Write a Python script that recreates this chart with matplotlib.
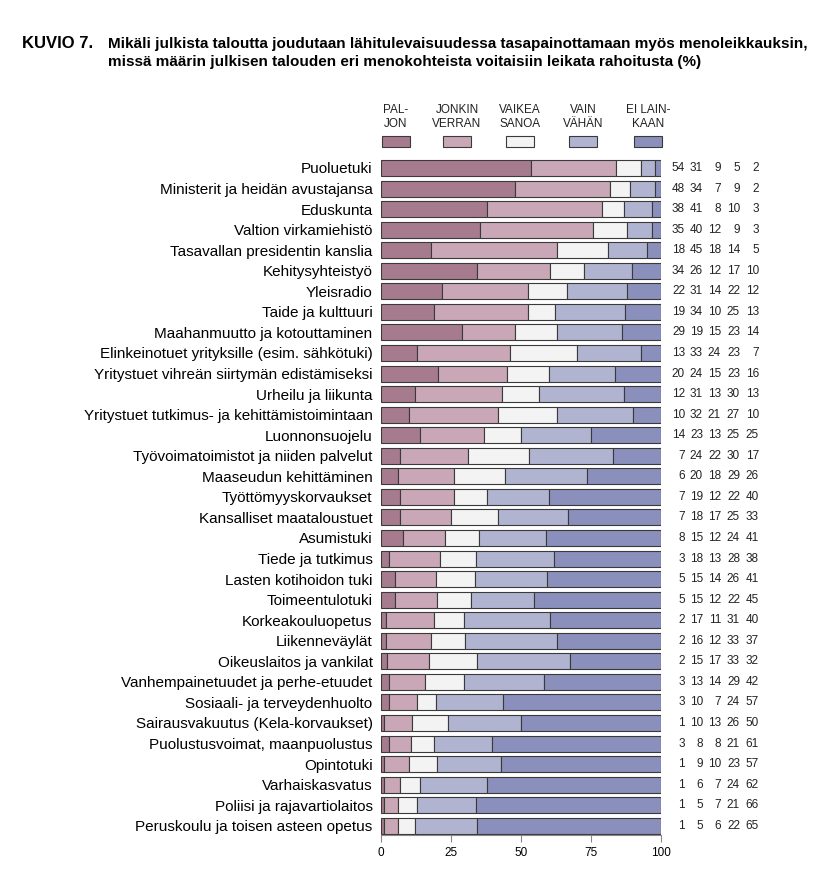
import matplotlib
matplotlib.use("Agg")
import matplotlib.pyplot as plt
from matplotlib.patches import Rectangle
from matplotlib.transforms import blended_transform_factory
import numpy as np

categories = [
    "Puoluetuki",
    "Ministerit ja heidän avustajansa",
    "Eduskunta",
    "Valtion virkamiehistö",
    "Tasavallan presidentin kanslia",
    "Kehitysyhteistyö",
    "Yleisradio",
    "Taide ja kulttuuri",
    "Maahanmuutto ja kotouttaminen",
    "Elinkeinotuet yrityksille (esim. sähkötuki)",
    "Yritystuet vihreän siirtymän edistämiseksi",
    "Urheilu ja liikunta",
    "Yritystuet tutkimus- ja kehittämistoimintaan",
    "Luonnonsuojelu",
    "Työvoimatoimistot ja niiden palvelut",
    "Maaseudun kehittäminen",
    "Työttömyyskorvaukset",
    "Kansalliset maataloustuet",
    "Asumistuki",
    "Tiede ja tutkimus",
    "Lasten kotihoidon tuki",
    "Toimeentulotuki",
    "Korkeakouluopetus",
    "Liikenneväylät",
    "Oikeuslaitos ja vankilat",
    "Vanhempainetuudet ja perhe-etuudet",
    "Sosiaali- ja terveydenhuolto",
    "Sairausvakuutus (Kela-korvaukset)",
    "Puolustusvoimat, maanpuolustus",
    "Opintotuki",
    "Varhaiskasvatus",
    "Poliisi ja rajavartiolaitos",
    "Peruskoulu ja toisen asteen opetus",
]

paljon = [54, 48, 38, 35, 18, 34, 22, 19, 29, 13, 20, 12, 10, 14, 7, 6, 7,
          7, 8, 3, 5, 5, 2, 2, 2, 3, 3, 1, 3, 1, 1, 1, 1]
jonkin_verran = [31, 34, 41, 40, 45, 26, 31, 34, 19, 33, 24, 31, 32, 23, 24,
                 20, 19, 18, 15, 18, 15, 15, 17, 16, 15, 13, 10, 10, 8, 9,
                 6, 5, 5]
vaikea_sanoa = [9, 7, 8, 12, 18, 12, 14, 10, 15, 24, 15, 13, 21, 13, 22, 18,
                12, 17, 12, 13, 14, 12, 11, 12, 17, 14, 7, 13, 8, 10, 7, 7, 6]
vain_vahan = [5, 9, 10, 9, 14, 17, 22, 25, 23, 23, 23, 30, 27, 25, 30, 29,
              22, 25, 24, 28, 26, 22, 31, 33, 33, 29, 24, 26, 21, 23, 24, 21,
              22]
ei_lainkaan = [2, 2, 3, 3, 5, 10, 12, 13, 14, 7, 16, 13, 10, 25, 17, 26, 40,
               33, 41, 38, 41, 45, 40, 37, 32, 42, 57, 50, 61, 57, 62, 66, 65]

series_labels = ["PAL-\nJON", "JONKIN\nVERRAN", "VAIKEA\nSANOA", "VAIN\nVÄHÄN",
                 "EI LAIN-\nKAAN"]
colors = ["#a77b8e", "#caa7b6", "#f3f3f3", "#b0b4d1", "#8a8fbc"]
xticks = [0, 25, 50, 75, 100]

plt.rcParams["font.family"] = ["Liberation Sans", "DejaVu Sans"]

series = np.array([paljon, jonkin_verran, vaikea_sanoa, vain_vahan, ei_lainkaan],
                  dtype=float)
# bars are drawn to 100 % (rounded figures do not always add up)
shares = series / series.sum(axis=0) * 100

fig = plt.figure(figsize=(8.28, 8.88), dpi=100)
ax = fig.add_axes([0.460, 0.0597, 0.338, 0.7627])

y = np.arange(len(categories))
left = np.zeros(len(categories))
for vals, col in zip(shares, colors):
    ax.barh(y, vals, left=left, height=0.78, color=col, edgecolor="#3a3a3a",
            linewidth=0.8)
    left += vals

ax.set_ylim(len(categories) - 0.55, -0.5)
ax.set_xlim(0, 100)
ax.set_yticks(y)
ax.set_yticklabels(categories, fontsize=11)
ax.tick_params(axis="y", length=0, pad=6)
ax.set_xticks(xticks)
ax.set_xticklabels([str(t) for t in xticks], fontsize=8.5)
ax.tick_params(axis="x", length=5, color="#888888", pad=4)
for s in ["top", "right", "left"]:
    ax.spines[s].set_visible(False)
ax.spines["bottom"].set_color("#888888")

# value columns on the right
col_x = [685, 703, 721, 740, 759]
trans = blended_transform_factory(fig.transFigure, ax.transData)
for i in range(len(categories)):
    for j in range(5):
        ax.text(col_x[j] / 828, i, str(int(series[j, i])), transform=trans,
                ha="right", va="center", fontsize=8.5, color="#222222")

# legend above the bars
leg_x = [396, 457, 520, 583, 648]
for lab, col, cx in zip(series_labels, colors, leg_x):
    fig.patches.append(Rectangle(((cx - 14) / 828, 1 - 147 / 888), 28 / 828,
                                 11 / 888, transform=fig.transFigure,
                                 facecolor=col, edgecolor="#3a3a3a",
                                 linewidth=0.8))
    fig.text(cx / 828, 1 - 117 / 888, lab, ha="center", va="center",
             fontsize=8.5, linespacing=1.15, color="#222222")

# title
fig.text(22 / 828, 1 - 44 / 888, "KUVIO 7.", ha="left", va="center",
         fontsize=12, fontweight="bold")
fig.text(108 / 828, 1 - 44 / 888,
         "Mikäli julkista taloutta joudutaan lähitulevaisuudessa "
         "tasapainottamaan myös menoleikkauksin,",
         ha="left", va="center", fontsize=11, fontweight="bold")
fig.text(108 / 828, 1 - 62 / 888,
         "missä määrin julkisen talouden eri menokohteista voitaisiin "
         "leikata rahoitusta (%)",
         ha="left", va="center", fontsize=11, fontweight="bold")

fig.savefig("out.png", dpi=100)
